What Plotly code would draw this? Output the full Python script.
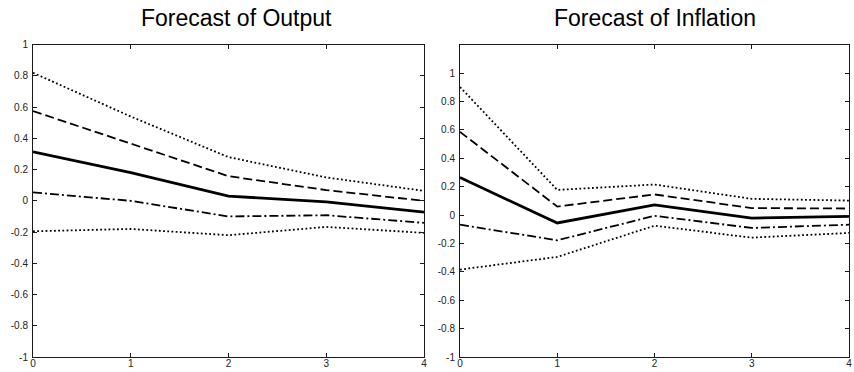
import plotly.graph_objects as go

horizon = [0, 1, 2, 3, 4]

# Forecast of Output
out_mean = [0.314, 0.18, 0.03, -0.006, -0.072]
out_up1 = [0.575, 0.365, 0.158, 0.069, 0.0]
out_lo1 = [0.054, 0.0, -0.10, -0.092, -0.141]
out_up2 = [0.82, 0.54, 0.28, 0.15, 0.064]
out_lo2 = [-0.195, -0.18, -0.22, -0.167, -0.205]

# Forecast of Inflation
inf_mean = [0.264, -0.056, 0.072, -0.021, -0.01]
inf_up1 = [0.586, 0.06, 0.145, 0.049, 0.046]
inf_lo1 = [-0.068, -0.178, -0.005, -0.091, -0.068]
inf_up2 = [0.902, 0.177, 0.215, 0.114, 0.102]
inf_lo2 = [-0.384, -0.295, -0.075, -0.159, -0.126]

titles = ["Forecast of Output", "Forecast of Inflation"]

xticks = [0, 1, 2, 3, 4]
xticklabels = ["0", "1", "2", "3", "4"]
yticks = [-1, -0.8, -0.6, -0.4, -0.2, 0, 0.2, 0.4, 0.6, 0.8, 1]
yticklabels = ["-1", "-0.8", "-0.6", "-0.4", "-0.2", "0", "0.2", "0.4", "0.6", "0.8", "1"]

DOT = "1.8px,2.4px"
DASH = "9px,4px"
DASHDOT = "9px,3px,2px,3px"

fig = go.Figure()

panels = [
    (out_mean, out_up1, out_lo1, out_up2, out_lo2, "x", "y"),
    (inf_mean, inf_up1, inf_lo1, inf_up2, inf_lo2, "x2", "y2"),
]
for mean, up1, lo1, up2, lo2, xa, ya in panels:
    for vals, dash, w in [
        (up2, DOT, 1.8),
        (lo2, DOT, 1.8),
        (up1, DASH, 1.8),
        (lo1, DASHDOT, 1.8),
        (mean, "solid", 2.8),
    ]:
        fig.add_trace(go.Scatter(
            x=horizon, y=vals, mode="lines", xaxis=xa, yaxis=ya,
            line=dict(color="black", width=w, dash=dash),
            showlegend=False, hoverinfo="skip", cliponaxis=False,
        ))

axis_common = dict(
    showgrid=False, zeroline=False, showline=True, linecolor="#1a1a1a",
    linewidth=1, mirror="ticks", ticks="inside", ticklen=4, tickwidth=1,
    tickcolor="#1a1a1a", automargin=False,
    tickfont=dict(family="Liberation Sans, Arial, sans-serif", size=10, color="#222"),
)

fig.update_layout(
    width=854, height=372,
    margin=dict(l=0, r=0, t=0, b=0),
    plot_bgcolor="white", paper_bgcolor="white",
    xaxis=dict(domain=[33 / 854, 424 / 854], range=[0, 4], tickvals=xticks,
               ticktext=xticklabels, anchor="y", ticklabelstandoff=-3, **axis_common),
    yaxis=dict(domain=[15 / 372, 327.3 / 372], range=[-1, 1], tickvals=yticks,
               ticktext=yticklabels, anchor="x", ticklabelstandoff=2, **axis_common),
    xaxis2=dict(domain=[460 / 854, 849 / 854], range=[0, 4], tickvals=xticks,
                ticktext=xticklabels, anchor="y2", ticklabelstandoff=-3, **axis_common),
    yaxis2=dict(domain=[15 / 372, 327.3 / 372], range=[-1, 1.2], tickvals=yticks,
                ticktext=yticklabels, anchor="x2", ticklabelstandoff=2, **axis_common),
)

for t, cx in zip(titles, [237, 655]):
    fig.add_annotation(
        text=t, x=cx / 854, y=1 - 18 / 372, xref="paper", yref="paper",
        xanchor="center", yanchor="middle", showarrow=False,
        font=dict(family="Liberation Sans, Arial, sans-serif", size=23, color="black"),
    )

fig.write_html(
    "out.html",
    config={"displayModeBar": False, "staticPlot": True},
    post_script="document.body.style.margin='0';document.body.style.overflow='hidden';",
)
